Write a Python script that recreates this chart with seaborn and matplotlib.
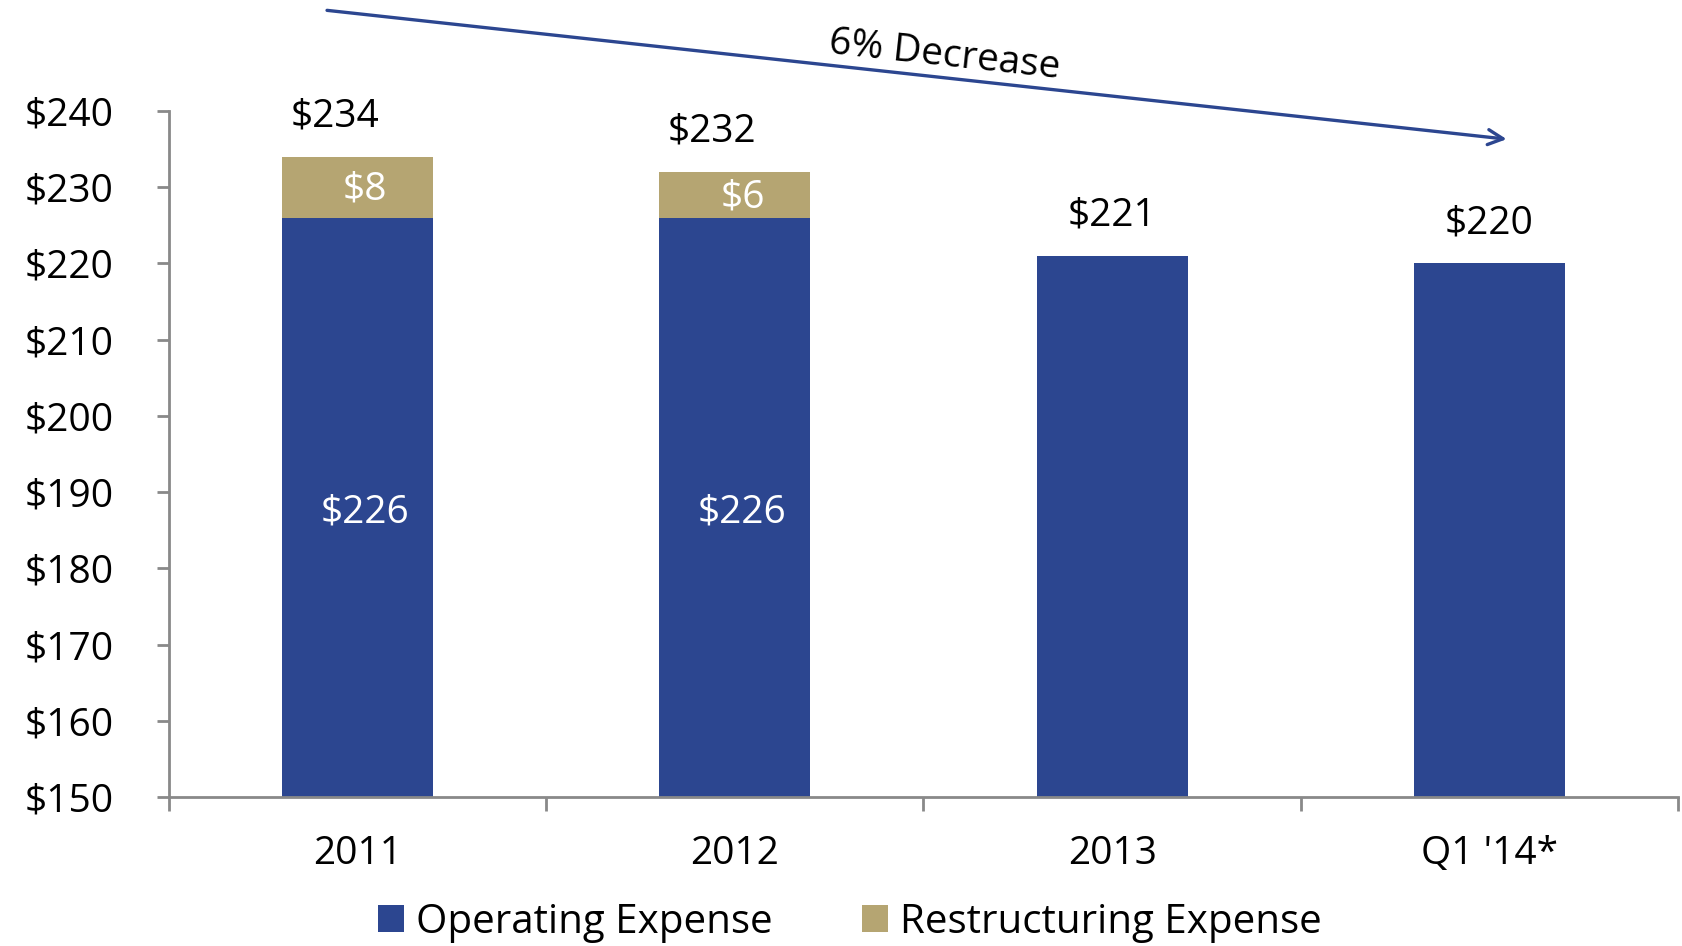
import matplotlib
matplotlib.use("Agg")
import matplotlib.pyplot as plt
import seaborn as sns
import pandas as pd
from matplotlib.patches import Patch

categories = ["2011", "2012", "2013", "Q1 '14*"]
operating = [226, 226, 221, 220]
restructuring = [8, 6, 0, 0]
totals = [o + r for o, r in zip(operating, restructuring)]
yticks = [150, 160, 170, 180, 190, 200, 210, 220, 230, 240]

BLUE = "#2C4690"
TAN = "#B5A572"
GRAY = "#898989"

sns.set_theme(style="white")
plt.rcParams["font.family"] = ["Open Sans", "DejaVu Sans"]
plt.rcParams["text.color"] = "black"
plt.rcParams["xtick.labelcolor"] = "black"
plt.rcParams["ytick.labelcolor"] = "black"
FS = 28

fig = plt.figure(figsize=(16.83, 9.46), dpi=100)
ax = fig.add_axes([0.1004, 0.1575, 0.8966, 0.7252])

df = pd.DataFrame({"cat": categories, "op": operating, "tot": totals})
sns.barplot(data=df, x="cat", y="tot", color=TAN, width=0.4, saturation=1,
            linewidth=0, ax=ax)
sns.barplot(data=df, x="cat", y="op", color=BLUE, width=0.4, saturation=1,
            linewidth=0, ax=ax)

ax.set_xlim(-0.5, 3.5)
ax.set_ylim(150, 240)
ax.set_yticks(yticks)
ax.set_yticklabels([f"${v}" for v in yticks])
ax.set_xlabel("")
ax.set_ylabel("")

for s in ["top", "right"]:
    ax.spines[s].set_visible(False)
for s in ["left", "bottom"]:
    ax.spines[s].set_color(GRAY)
    ax.spines[s].set_linewidth(2)

ax.tick_params(axis="y", which="major", direction="out", length=9, width=2,
               color=GRAY, labelsize=FS, labelcolor="black", pad=31, left=True)
ax.tick_params(axis="x", which="major", length=0, labelsize=FS,
               labelcolor="black", pad=27)
ax.set_xticks([-0.5, 0.5, 1.5, 2.5, 3.5], minor=True)
ax.tick_params(axis="x", which="minor", direction="out", length=10, width=2,
               color=GRAY, bottom=True)

# data labels
for i, (o, r, t) in enumerate(zip(operating, restructuring, totals)):
    dx = -0.06 if r > 0 else 0.0
    ax.annotate(f"${t}", (i + dx, t), xytext=(0, 29), textcoords="offset points",
                ha="center", va="center", fontsize=FS, color="black")
    if r > 0:
        ax.annotate(f"${r}", (i + 0.02, o + r / 2), xytext=(0, -2),
                    textcoords="offset points", ha="center", va="center",
                    fontsize=FS, color="white")
        ax.annotate(f"${o}", (i + 0.02, (150 + o) / 2), xytext=(0, -4),
                    textcoords="offset points", ha="center", va="center",
                    fontsize=FS, color="white")

# trend arrow
ax.annotate("", xy=(3.046, 236.3), xytext=(-0.081, 253.2),
            xycoords="data", textcoords="data", annotation_clip=False,
            arrowprops=dict(arrowstyle="->,head_length=0.9,head_width=0.45",
                            color=BLUE, lw=2.4, shrinkA=0, shrinkB=0))
ax.text(1.555, 247.3, "6% Decrease", ha="center", va="center", rotation=-6.2,
        rotation_mode="anchor", fontsize=FS, color="black", clip_on=False)

handles = [Patch(facecolor=BLUE, edgecolor="none", label="Operating Expense"),
           Patch(facecolor=TAN, edgecolor="none", label="Restructuring Expense")]
fig.legend(handles=handles, loc="center", bbox_to_anchor=(0.505, 0.025),
           ncol=2, frameon=False, fontsize=FS + 1, handlelength=0.65,
           handleheight=0.65, handletextpad=0.3, columnspacing=2.2)

fig.savefig("out.png", dpi=100)
